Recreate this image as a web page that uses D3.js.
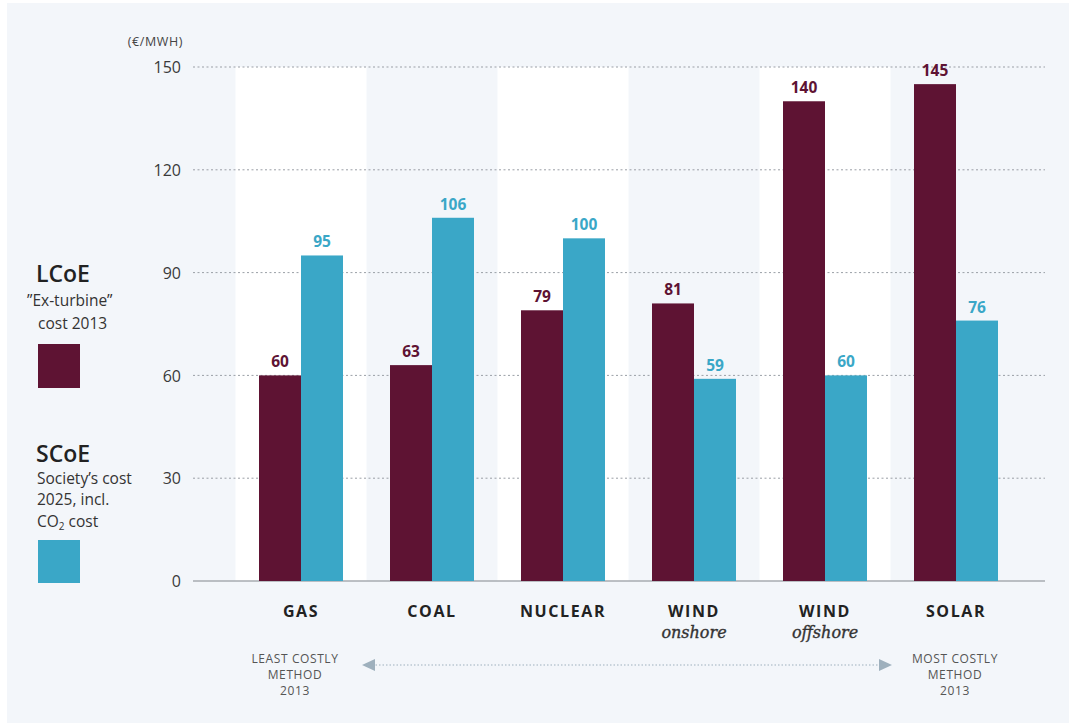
<!DOCTYPE html>
<html>
<head>
<meta charset="utf-8">
<script src="https://cdn.jsdelivr.net/npm/d3@7"></script>
<style>
  html, body { margin: 0; padding: 0; background: #ffffff; }
  svg { display: block; font-family: "Open Sans", "Noto Sans", sans-serif; }
</style>
</head>
<body>
<svg id="chart" width="1069" height="723"></svg>
<script>
const categories = ["GAS", "COAL", "NUCLEAR", "WIND", "WIND", "SOLAR"];
const subLabels = ["", "", "", "onshore", "offshore", ""];
const series = ["LCoE", "SCoE"];
const lcoeValues = [60, 63, 79, 81, 140, 145];
const scoeValues = [95, 106, 100, 59, 60, 76];
const yTicks = [0, 30, 60, 90, 120, 150];
const colors = { LCoE: "#5e1333", SCoE: "#3aa7c7" };

const svg = d3.select("#chart");
const W = 1069, H = 723;

// page background
svg.append("rect").attr("x", 7).attr("y", 3).attr("width", W - 7).attr("height", H - 3).attr("fill", "#f3f6fa");

const keys = categories.map((c, i) => c + i);
const x = d3.scaleBand().domain(keys).range([235.5, 1021.5]).padding(0);
const groupW = 84;
const xs = d3.scaleBand().domain(series).range([0, groupW]).padding(0);
const y = d3.scaleLinear().domain([0, 150]).range([581, 67]);

// alternating column bands
svg.append("g").selectAll("rect").data(keys.filter((k, i) => i % 2 === 0)).join("rect")
  .attr("x", d => x(d)).attr("width", x.bandwidth())
  .attr("y", y(150)).attr("height", y(0) - y(150))
  .attr("fill", "#ffffff");

// grid lines
const gx0 = 193, gx1 = 1045;
svg.append("g").selectAll("line").data(yTicks.filter(t => t > 0)).join("line")
  .attr("x1", gx0).attr("x2", gx1).attr("y1", d => y(d)).attr("y2", d => y(d))
  .attr("stroke", "#9a9fa6").attr("stroke-width", 1).attr("stroke-dasharray", "2,2.5");
svg.append("line").attr("x1", gx0).attr("x2", gx1).attr("y1", y(0)).attr("y2", y(0))
  .attr("stroke", "#a7abb0").attr("stroke-width", 1.5);

// y axis labels
const yAxis = d3.axisLeft(y).tickValues(yTicks).tickSize(0).tickPadding(0);
const ya = svg.append("g").attr("transform", "translate(181,0)").call(yAxis);
ya.select(".domain").remove();
ya.selectAll("text").attr("font-size", 16).attr("fill", "#3a3a3a")
  .attr("font-family", "'Open Sans', sans-serif").attr("dy", "0.35em");

svg.append("text").attr("x", 183).attr("y", 46).attr("text-anchor", "end")
  .attr("font-size", 12.5).attr("fill", "#444").attr("letter-spacing", 0.6).text("(€/MWH)");

// bars
const data = keys.map((k, i) => ({ key: k, LCoE: lcoeValues[i], SCoE: scoeValues[i] }));
const groups = svg.append("g").selectAll("g").data(data).join("g")
  .attr("transform", d => `translate(${x(d.key) + (x.bandwidth() - groupW) / 2},0)`);
groups.selectAll("rect").data(d => series.map(s => ({ s, v: d[s] }))).join("rect")
  .attr("x", d => xs(d.s)).attr("width", xs.bandwidth())
  .attr("y", d => y(d.v)).attr("height", d => y(0) - y(d.v))
  .attr("fill", d => colors[d.s]);
groups.selectAll("text").data(d => series.map(s => ({ s, v: d[s] }))).join("text")
  .attr("x", d => xs(d.s) + xs.bandwidth() / 2).attr("y", d => y(d.v) - 8)
  .attr("text-anchor", "middle").attr("font-size", 15.5).attr("font-weight", 700)
  .attr("fill", d => colors[d.s]).text(d => d.v);

// category labels
const cl = svg.append("g").selectAll("g").data(data).join("g")
  .attr("transform", d => `translate(${x(d.key) + x.bandwidth() / 2},0)`);
cl.append("text").attr("y", 617).attr("text-anchor", "middle")
  .attr("font-size", 16).attr("font-weight", 700).attr("letter-spacing", 1.6)
  .attr("fill", "#222").text((d, i) => categories[i]);
cl.append("text").attr("y", 638).attr("text-anchor", "middle")
  .attr("font-size", 16).attr("font-style", "italic")
  .attr("font-family", "'DejaVu Serif', serif").attr("fill", "#333")
  .attr("stroke", "#333").attr("stroke-width", 0.35)
  .text((d, i) => subLabels[i]);

// bottom annotation
function block(cx, lines) {
  svg.append("g").selectAll("text").data(lines).join("text")
    .attr("x", cx).attr("y", (d, i) => 663 + i * 16).attr("text-anchor", "middle")
    .attr("font-size", 12).attr("fill", "#555").attr("letter-spacing", 0.6).text(d => d);
}
block(x(keys[0]) + x.bandwidth() / 2 - 6, ["LEAST COSTLY", "METHOD", "2013"]);
block(x(keys[5]) + x.bandwidth() / 2 - 1, ["MOST COSTLY", "METHOD", "2013"]);
const ay = 665, ax0 = 362, ax1 = 892;
svg.append("line").attr("x1", ax0 + 10).attr("x2", ax1 - 10).attr("y1", ay).attr("y2", ay)
  .attr("stroke", "#9eb0bd").attr("stroke-width", 1.2).attr("stroke-dasharray", "1.5,2");
svg.append("path").attr("d", `M${ax0},${ay} L${ax0 + 13},${ay - 6} L${ax0 + 13},${ay + 6} Z`).attr("fill", "#9eb0bd");
svg.append("path").attr("d", `M${ax1},${ay} L${ax1 - 13},${ay - 6} L${ax1 - 13},${ay + 6} Z`).attr("fill", "#9eb0bd");

// legend
const lg = svg.append("g");
lg.append("text").attr("x", 36).attr("y", 282).attr("font-size", 23).attr("font-weight", 600).attr("fill", "#222").text("LCoE");
lg.append("text").attr("x", 27).attr("y", 306).attr("font-size", 15.5).attr("fill", "#333").text("\u201DEx-turbine\u201D");
lg.append("text").attr("x", 38).attr("y", 329).attr("font-size", 15.5).attr("fill", "#333").text("cost 2013");
lg.append("rect").attr("x", 38).attr("y", 344).attr("width", 42).attr("height", 44).attr("fill", colors.LCoE);
lg.append("text").attr("x", 36).attr("y", 462).attr("font-size", 23).attr("font-weight", 600).attr("fill", "#222").text("SCoE");
lg.append("text").attr("x", 37).attr("y", 484).attr("font-size", 15.5).attr("fill", "#333").text("Society\u2019s cost");
lg.append("text").attr("x", 37).attr("y", 505).attr("font-size", 15.5).attr("fill", "#333").text("2025, incl.");
const co = lg.append("text").attr("x", 37).attr("y", 527).attr("font-size", 15.5).attr("fill", "#333");
co.append("tspan").text("CO");
co.append("tspan").attr("font-size", 10).attr("dy", 3).text("2");
co.append("tspan").attr("dy", -3).text(" cost");
lg.append("rect").attr("x", 38).attr("y", 540).attr("width", 42).attr("height", 43).attr("fill", colors.SCoE);
</script>
</body>
</html>
